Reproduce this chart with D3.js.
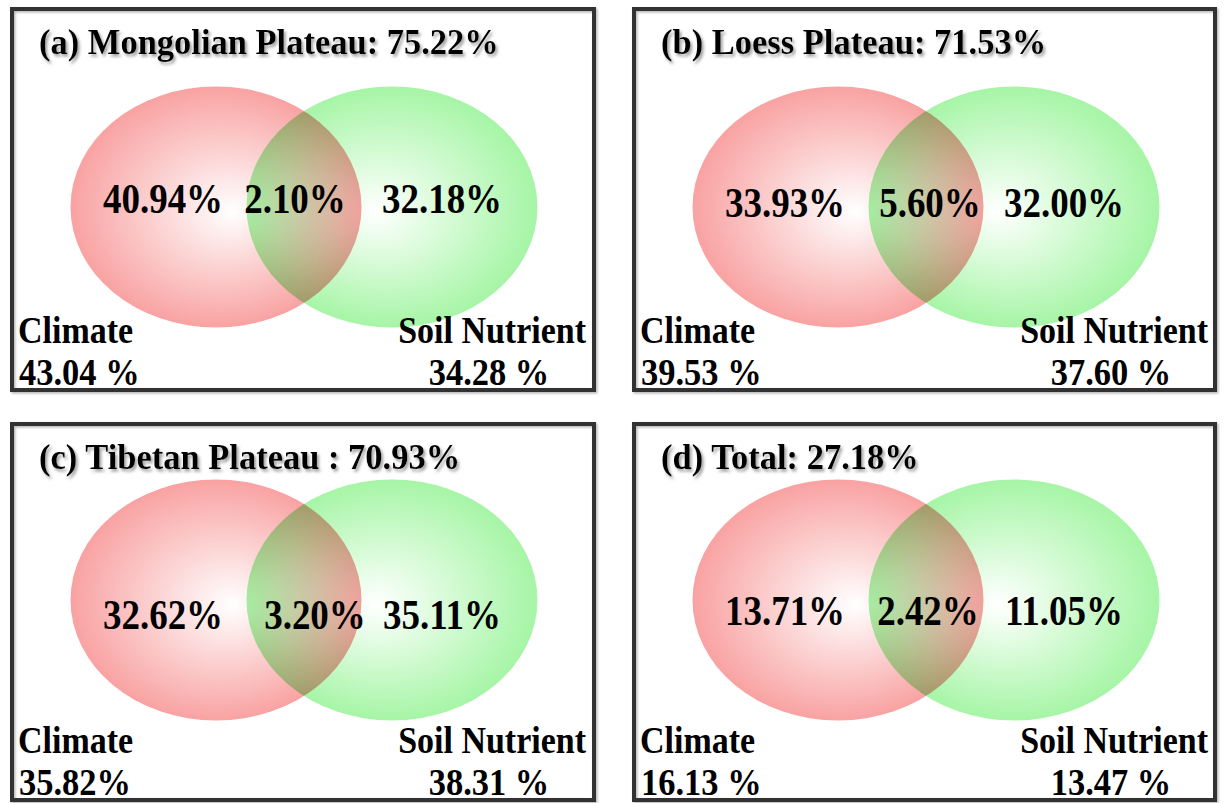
<!DOCTYPE html>
<html>
<head>
<meta charset="utf-8">
<script src="https://cdn.jsdelivr.net/npm/d3@7"></script>
<style>
  html, body { margin: 0; padding: 0; background: #fff; }
  svg { display: block; }
  text { font-family: "Liberation Serif", "Times New Roman", serif; font-weight: bold; fill: #000; }
</style>
</head>
<body>
<svg id="chart" width="1225" height="803"></svg>
<script>
// Variance partitioning: climate vs. soil nutrient, per region
const panelTags     = ["(a)", "(b)", "(c)", "(d)"];
const regionNames   = ["Mongolian Plateau", "Loess Plateau", "Tibetan Plateau ", "Total"];
const totalExplained = [75.22, 71.53, 70.93, 27.18];
const climateOnly   = [40.94, 33.93, 32.62, 13.71];
const sharedPart    = [2.10, 5.60, 3.20, 2.42];
const soilOnly      = [32.18, 32.00, 35.11, 11.05];
const climateTotal  = [43.04, 39.53, 35.82, 16.13];
const soilTotal     = [34.28, 37.60, 38.31, 13.47];
const climateSuffix = [" %", " %", "%", " %"];
const soilSuffix    = [" %", " %", " %", " %"];
const setNames      = ["Climate", "Soil Nutrient"];

const panels = panelTags.map((tag, i) => ({
  i, tag, row: Math.floor(i / 2), col: i % 2,
  title: `${tag} ${regionNames[i]}: ${totalExplained[i].toFixed(2)}%`,
  climateOnly: climateOnly[i], shared: sharedPart[i], soilOnly: soilOnly[i],
  climateTotal: climateTotal[i], soilTotal: soilTotal[i]
}));

const fmt = d3.format(".2f");
const svg = d3.select("#chart");
const defs = svg.append("defs");

// gradients: white core fading to saturated rim
function radial(id, color, fx) {
  const g = defs.append("radialGradient").attr("id", id)
    .attr("cx", "50%").attr("cy", "50%").attr("r", "50%")
    .attr("fx", fx).attr("fy", "52%");
  g.append("stop").attr("offset", "0%").attr("stop-color", "#ffffff");
  g.append("stop").attr("offset", "45%").attr("stop-color", d3.interpolateRgb("#ffffff", color)(0.45));
  g.append("stop").attr("offset", "100%").attr("stop-color", color);
}
radial("gradClimate", "#f9a2a2", "56%");
radial("gradSoil", "#a6f5a6", "44%");

const titleShadow = defs.append("filter").attr("id", "titleShadow")
  .attr("x", "-5%").attr("y", "-20%").attr("width", "115%").attr("height", "160%");
titleShadow.append("feDropShadow").attr("dx", 2).attr("dy", 2.5)
  .attr("stdDeviation", 1.6).attr("flood-color", "#8a8a8a").attr("flood-opacity", 0.8);

const frameShadow = defs.append("filter").attr("id", "frameShadow")
  .attr("x", "-2%").attr("y", "-2%").attr("width", "104%").attr("height", "104%");
frameShadow.append("feDropShadow").attr("dx", 1.5).attr("dy", 1.5)
  .attr("stdDeviation", 1).attr("flood-color", "#999").attr("flood-opacity", 0.7);

// 2x2 grid of panels
const colX = d3.scaleOrdinal().domain([0, 1]).range([12, 634]);
const rowY = d3.scaleOrdinal().domain([0, 1]).range([9, 424]);
const panelW = [582, 581];
const panelH = [381, 376];
const circleCy = [198, 176];   // vertical centre of the two sets, per row
const rx = 145.5, ry = 120.5;
const redCx = 204, greenCx = 380;
const sharedX = [283, 296, 303, 294];

const g = svg.selectAll("g.panel").data(panels).join("g")
  .attr("class", "panel")
  .attr("transform", d => `translate(${colX(d.col)},${rowY(d.row)})`);

g.append("rect")
  .attr("width", d => panelW[d.col])
  .attr("height", d => panelH[d.row])
  .attr("fill", "none").attr("stroke", "#333").attr("stroke-width", 4)
  .attr("filter", "url(#frameShadow)");

const venn = g.append("g").style("isolation", "isolate");
venn.append("ellipse")
  .attr("cx", redCx).attr("cy", d => circleCy[d.row])
  .attr("rx", rx).attr("ry", ry)
  .attr("fill", "url(#gradClimate)");
venn.append("ellipse")
  .attr("cx", greenCx).attr("cy", d => circleCy[d.row])
  .attr("rx", rx).attr("ry", ry)
  .attr("fill", "url(#gradSoil)")
  .style("mix-blend-mode", "multiply");

// text in a slightly tall, narrow face
function label(sel, x, y, size, sy, anchor, txt) {
  return sel.append("text")
    .attr("transform", d => `translate(${typeof x === "function" ? x(d) : x},${typeof y === "function" ? y(d) : y}) scale(1,${sy})`)
    .attr("font-size", size)
    .attr("text-anchor", anchor)
    .text(txt);
}

// titles
label(g, 27, 45, 34.5, 1.04, "start", d => d.title)
  .attr("filter", "url(#titleShadow)");

// partition values inside the sets
const innerY = d => d.row === 0 ? (d.col === 0 ? 204 : 208) : (d.col === 0 ? 205 : 201);
label(g, 151, innerY, 37, 1.15, "middle", d => fmt(d.climateOnly) + "%");
label(g, d => sharedX[d.i], innerY, 37, 1.15, "middle", d => fmt(d.shared) + "%");
label(g, 430, innerY, 37, 1.15, "middle", d => fmt(d.soilOnly) + "%");

// set names and set totals
const nameY = d => d.row === 0 ? 334 : 329;
const valY = d => d.row === 0 ? 376 : 371;
label(g, 6, nameY, 34, 1.12, "start", setNames[0]);
label(g, 7, valY, 34.5, 1.12, "start", d => fmt(d.climateTotal) + climateSuffix[d.i]);
label(g, 574, nameY, 34, 1.12, "end", setNames[1]);
label(g, 477, valY, 34.5, 1.12, "middle", d => fmt(d.soilTotal) + soilSuffix[d.i]);
</script>
</body>
</html>
